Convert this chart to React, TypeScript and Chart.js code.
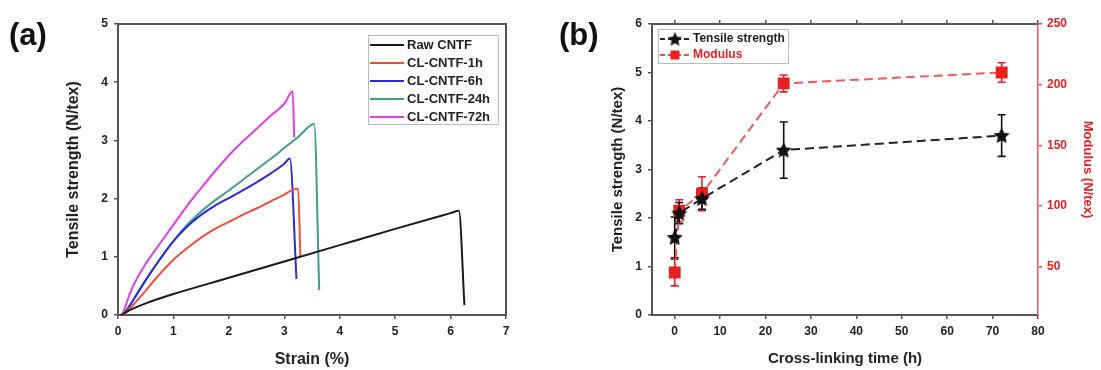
import React, { useEffect, useRef } from "react";
import { Chart, registerables } from "chart.js";
Chart.register(...registerables);

const FONT = '"Liberation Sans", Arial, sans-serif';
const AXIS = "#555";
const TXT = "#222";
const RED = "#e82020";

// ---------- Panel (a): stress-strain curves ----------
const strainTicks = [0, 1, 2, 3, 4, 5, 6, 7];
const stressTicks = [0, 1, 2, 3, 4, 5];

const rawX = [0.05, 0.25, 0.5, 1, 2, 3, 4, 5, 6, 6.15, 6.25];
const rawY = [0, 0.1, 0.2, 0.36, 0.64, 0.92, 1.2, 1.48, 1.75, 1.79, 0.17];

const h1X = [0.1, 0.25, 0.5, 0.75, 1.0, 1.25, 1.5, 1.75, 2.0, 2.25, 2.5, 2.75, 3.0, 3.15, 3.25, 3.29];
const h1Y = [0, 0.15, 0.42, 0.7, 0.95, 1.15, 1.33, 1.48, 1.6, 1.72, 1.83, 1.95, 2.07, 2.15, 2.17, 1.0];

const h6X = [0.1, 0.25, 0.5, 0.75, 1.0, 1.25, 1.5, 1.75, 2.0, 2.25, 2.5, 2.75, 3.0, 3.1, 3.22];
const h6Y = [0, 0.22, 0.6, 0.95, 1.27, 1.52, 1.72, 1.88, 2.01, 2.14, 2.28, 2.43, 2.6, 2.69, 0.62];

const h24X = [0.1, 0.25, 0.5, 0.75, 1.0, 1.25, 1.5, 1.75, 2.0, 2.25, 2.5, 2.75, 3.0, 3.25, 3.54, 3.63];
const h24Y = [0, 0.22, 0.6, 0.95, 1.27, 1.55, 1.78, 1.97, 2.14, 2.32, 2.5, 2.68, 2.87, 3.06, 3.28, 0.43];

const h72X = [0.08, 0.25, 0.5, 0.75, 1.0, 1.25, 1.5, 1.75, 2.0, 2.25, 2.5, 2.75, 3.0, 3.15, 3.18];
const h72Y = [0, 0.45, 0.88, 1.22, 1.55, 1.88, 2.18, 2.47, 2.74, 2.98, 3.2, 3.42, 3.63, 3.84, 3.05];

const seriesA = [
  { label: "Raw CNTF", xs: rawX, ys: rawY, color: "#1a1a1a" },
  { label: "CL-CNTF-1h", xs: h1X, ys: h1Y, color: "#f0503a" },
  { label: "CL-CNTF-6h", xs: h6X, ys: h6Y, color: "#2b2bd8" },
  { label: "CL-CNTF-24h", xs: h24X, ys: h24Y, color: "#3f9c8e" },
  { label: "CL-CNTF-72h", xs: h72X, ys: h72Y, color: "#e23fe6" },
];

// ---------- Panel (b): strength / modulus vs time ----------
const timeTicks = [0, 10, 20, 30, 40, 50, 60, 70, 80];
const tsTicks = [0, 1, 2, 3, 4, 5, 6];
const modTicks = [50, 100, 150, 200, 250];

const times = [0, 1, 6, 24, 72];
const tensile = [1.6, 2.1, 2.4, 3.4, 3.7];
const tensileErr = [0.42, 0.22, 0.22, 0.58, 0.43];
const modulus = [45, 96, 110, 201, 210];
const modulusErr = [11, 9, 14, 7, 8];

function makeStar(r: number, color: string) {
  const c = document.createElement("canvas");
  const s = Math.ceil(r * 2 + 2);
  c.width = s;
  c.height = s;
  const g = c.getContext("2d")!;
  g.fillStyle = color;
  g.beginPath();
  for (let i = 0; i < 10; i++) {
    const rad = i % 2 === 0 ? r : r * 0.48;
    const a = -Math.PI / 2 + (i * Math.PI) / 5;
    const px = s / 2 + rad * Math.cos(a);
    const py = s / 2 + 0.6 + rad * Math.sin(a);
    if (i === 0) g.moveTo(px, py);
    else g.lineTo(px, py);
  }
  g.closePath();
  g.fill();
  return c;
}

const setTicks = (vals: number[]) => (s: any) => {
  s.ticks = vals.map((v) => ({ value: v }));
};

const tickFont = { family: FONT, size: 12, weight: "bold" as const };

function panelLabel(text: string) {
  return {
    id: "panelLabel",
    afterDraw(chart: any) {
      const c = chart.ctx;
      c.save();
      c.font = `bold 31px ${FONT}`;
      c.fillStyle = "#111";
      c.textBaseline = "middle";
      c.textAlign = "left";
      c.fillText(text, 9, 36);
      c.restore();
    },
  };
}

export default function App() {
  const refA = useRef<HTMLCanvasElement>(null);
  const refB = useRef<HTMLCanvasElement>(null);

  useEffect(() => {
    const legendA = {
      id: "legendA",
      afterDraw(chart: any) {
        const c = chart.ctx;
        c.save();
        c.fillStyle = "#fff";
        c.fillRect(368.5, 35.5, 130, 89);
        c.strokeStyle = "#bbb";
        c.lineWidth = 1;
        c.strokeRect(368.5, 35.5, 130, 89);
        c.font = `bold 13px ${FONT}`;
        c.textBaseline = "middle";
        c.textAlign = "left";
        chart.data.datasets.forEach((ds: any, i: number) => {
          const y = 45 + i * 18;
          c.strokeStyle = ds.borderColor;
          c.lineWidth = 2;
          c.beginPath();
          c.moveTo(370, y);
          c.lineTo(404, y);
          c.stroke();
          c.fillStyle = TXT;
          c.fillText(ds.label, 407, y);
        });
        c.restore();
      },
    };

    const chartA = new Chart(refA.current!, {
      type: "line",
      data: {
        datasets: seriesA.map((s) => ({
          label: s.label,
          data: s.xs.map((x, i) => ({ x, y: s.ys[i] })),
          borderColor: s.color,
          backgroundColor: s.color,
          borderWidth: 2,
          pointRadius: 0,
          cubicInterpolationMode: "monotone",
          fill: false,
        })),
      },
      options: {
        responsive: false,
        maintainAspectRatio: false,
        animation: false,
        layout: { padding: { left: 0, top: 24, right: 44, bottom: 0 } },
        plugins: { legend: { display: false }, tooltip: { enabled: false } },
        scales: {
          x: {
            type: "linear",
            position: "bottom",
            min: 0,
            max: 7,
            afterBuildTicks: setTicks(strainTicks),
            afterFit: (s: any) => {
              s.height = 55;
            },
            grid: { drawOnChartArea: false, drawTicks: true, tickLength: 4, color: AXIS, lineWidth: 1.5 },
            border: { display: true, color: AXIS, width: 2 },
            ticks: { color: TXT, font: tickFont, padding: 5, maxRotation: 0 },
            title: {
              display: true,
              text: "Strain (%)",
              color: TXT,
              font: { family: FONT, size: 16, weight: "bold" },
              padding: { top: 0, bottom: 1 },
            },
          },
          x2: {
            type: "linear",
            position: "top",
            min: 0,
            max: 7,
            afterFit: (s: any) => {
              s.height = 0;
            },
            grid: { display: false },
            border: { display: true, color: AXIS, width: 2 },
            ticks: { display: false },
          },
          y: {
            type: "linear",
            position: "left",
            min: 0,
            max: 5,
            afterBuildTicks: setTicks(stressTicks),
            afterFit: (s: any) => {
              s.width = 118;
            },
            grid: { drawOnChartArea: false, drawTicks: true, tickLength: 4, color: AXIS, lineWidth: 1.5 },
            border: { display: true, color: AXIS, width: 2 },
            ticks: { color: TXT, font: tickFont, padding: 6 },
            title: {
              display: true,
              text: "Tensile strength (N/tex)",
              color: TXT,
              font: { family: FONT, size: 16, weight: "bold" },
              padding: { top: 64, bottom: 0 },
            },
          },
          y2: {
            type: "linear",
            position: "right",
            min: 0,
            max: 5,
            afterFit: (s: any) => {
              s.width = 0;
            },
            grid: { display: false },
            border: { display: true, color: AXIS, width: 2 },
            ticks: { display: false },
          },
        },
      },
      plugins: [panelLabel("(a)"), legendA],
    } as any);

    const star = makeStar(8.5, "#111");
    const starSmall = makeStar(7.5, "#111");

    const errorBars = {
      id: "errorBars",
      beforeDatasetsDraw(chart: any) {
        const c = chart.ctx;
        const xs = chart.scales.x;
        const draw = (vals: number[], errs: number[], scale: any, color: string) => {
          c.save();
          c.strokeStyle = color;
          c.lineWidth = 1.6;
          times.forEach((t, i) => {
            const px = xs.getPixelForValue(t);
            const top = scale.getPixelForValue(vals[i] + errs[i]);
            const bot = scale.getPixelForValue(vals[i] - errs[i]);
            c.beginPath();
            c.moveTo(px, top);
            c.lineTo(px, bot);
            c.moveTo(px - 4, top);
            c.lineTo(px + 4, top);
            c.moveTo(px - 4, bot);
            c.lineTo(px + 4, bot);
            c.stroke();
          });
          c.restore();
        };
        draw(modulus, modulusErr, chart.scales.y2, RED);
        draw(tensile, tensileErr, chart.scales.y, "#111");
      },
    };

    const legendB = {
      id: "legendB",
      afterDraw(chart: any) {
        const c = chart.ctx;
        c.save();
        c.fillStyle = "#fff";
        c.fillRect(108.5, 29.5, 130, 34);
        c.strokeStyle = "#bbb";
        c.lineWidth = 1;
        c.strokeRect(108.5, 29.5, 130, 34);
        c.font = `bold 12px ${FONT}`;
        c.textBaseline = "middle";
        c.textAlign = "left";
        // row 1
        c.setLineDash([5, 3]);
        c.lineWidth = 2;
        c.strokeStyle = "#222";
        c.beginPath();
        c.moveTo(110, 39);
        c.lineTo(140, 39);
        c.stroke();
        c.drawImage(starSmall, 125 - starSmall.width / 2, 39 - starSmall.height / 2);
        c.fillStyle = "#222";
        c.fillText(chart.data.datasets[0].label, 143, 39);
        // row 2
        c.strokeStyle = "rgba(240,60,60,0.9)";
        c.beginPath();
        c.moveTo(110, 55);
        c.lineTo(140, 55);
        c.stroke();
        c.setLineDash([]);
        c.fillStyle = RED;
        c.fillRect(120.5, 50.5, 9, 9);
        c.fillText(chart.data.datasets[1].label, 143, 55);
        c.restore();
      },
    };

    const chartB = new Chart(refB.current!, {
      type: "line",
      data: {
        datasets: [
          {
            label: "Tensile strength",
            yAxisID: "y",
            data: times.map((t, i) => ({ x: t, y: tensile[i] })),
            borderColor: "#222",
            backgroundColor: "#111",
            borderDash: [9, 5],
            borderWidth: 2,
            pointStyle: star as any,
            pointRadius: 8,
            tension: 0,
          },
          {
            label: "Modulus",
            yAxisID: "y2",
            data: times.map((t, i) => ({ x: t, y: modulus[i] })),
            borderColor: "rgba(240,60,60,0.85)",
            backgroundColor: RED,
            pointBackgroundColor: RED,
            pointBorderColor: RED,
            borderDash: [9, 5],
            borderWidth: 2,
            pointStyle: "rect",
            pointRadius: 7,
            tension: 0,
          },
        ],
      },
      options: {
        responsive: false,
        maintainAspectRatio: false,
        animation: false,
        layout: { padding: { left: 0, top: 24, right: 0, bottom: 0 } },
        plugins: { legend: { display: false }, tooltip: { enabled: false } },
        scales: {
          x: {
            type: "linear",
            position: "bottom",
            min: -5,
            max: 80,
            afterBuildTicks: setTicks(timeTicks),
            afterFit: (s: any) => {
              s.height = 55;
            },
            grid: { drawOnChartArea: false, drawTicks: true, tickLength: 4, color: AXIS, lineWidth: 1.5 },
            border: { display: true, color: AXIS, width: 2 },
            ticks: { color: TXT, font: tickFont, padding: 5, maxRotation: 0 },
            title: {
              display: true,
              text: "Cross-linking time (h)",
              color: TXT,
              font: { family: FONT, size: 15, weight: "bold" },
              padding: { top: 0, bottom: 2 },
            },
          },
          x2: {
            type: "linear",
            position: "top",
            min: -5,
            max: 80,
            afterBuildTicks: setTicks(timeTicks),
            afterFit: (s: any) => {
              s.height = 0;
            },
            grid: { drawOnChartArea: false, drawTicks: true, tickLength: 4, color: AXIS, lineWidth: 1.5 },
            border: { display: true, color: AXIS, width: 2 },
            ticks: { display: false },
          },
          y: {
            type: "linear",
            position: "left",
            min: 0,
            max: 6,
            afterBuildTicks: setTicks(tsTicks),
            afterFit: (s: any) => {
              s.width = 102;
            },
            grid: { drawOnChartArea: false, drawTicks: true, tickLength: 4, color: AXIS, lineWidth: 1.5 },
            border: { display: true, color: AXIS, width: 2 },
            ticks: { color: TXT, font: tickFont, padding: 6 },
            title: {
              display: true,
              text: "Tensile strength (N/tex)",
              color: TXT,
              font: { family: FONT, size: 15, weight: "bold" },
              padding: { top: 59, bottom: 0 },
            },
          },
          y2: {
            type: "linear",
            position: "right",
            min: 10,
            max: 250,
            afterBuildTicks: setTicks(modTicks),
            afterFit: (s: any) => {
              s.width = 63;
            },
            grid: { drawOnChartArea: false, drawTicks: true, tickLength: 4, color: "#ee4444", lineWidth: 1.5 },
            border: { display: true, color: "#ee5555", width: 1.5 },
            ticks: { color: RED, font: tickFont, padding: 5 },
            title: {
              display: true,
              text: "Modulus (N/tex)",
              color: RED,
              font: { family: FONT, size: 13, weight: "bold" },
              padding: { top: 6, bottom: 0 },
            },
          },
        },
      },
      plugins: [panelLabel("(b)"), errorBars, legendB],
    } as any);

    return () => {
      chartA.destroy();
      chartB.destroy();
    };
  }, []);

  return (
    <div style={{ position: "absolute", left: 0, top: 0, width: 1101, height: 370, background: "#fff" }}>
      <canvas ref={refA} width={550} height={370} style={{ position: "absolute", left: 0, top: 0 }} />
      <canvas ref={refB} width={551} height={370} style={{ position: "absolute", left: 550, top: 0 }} />
    </div>
  );
}
